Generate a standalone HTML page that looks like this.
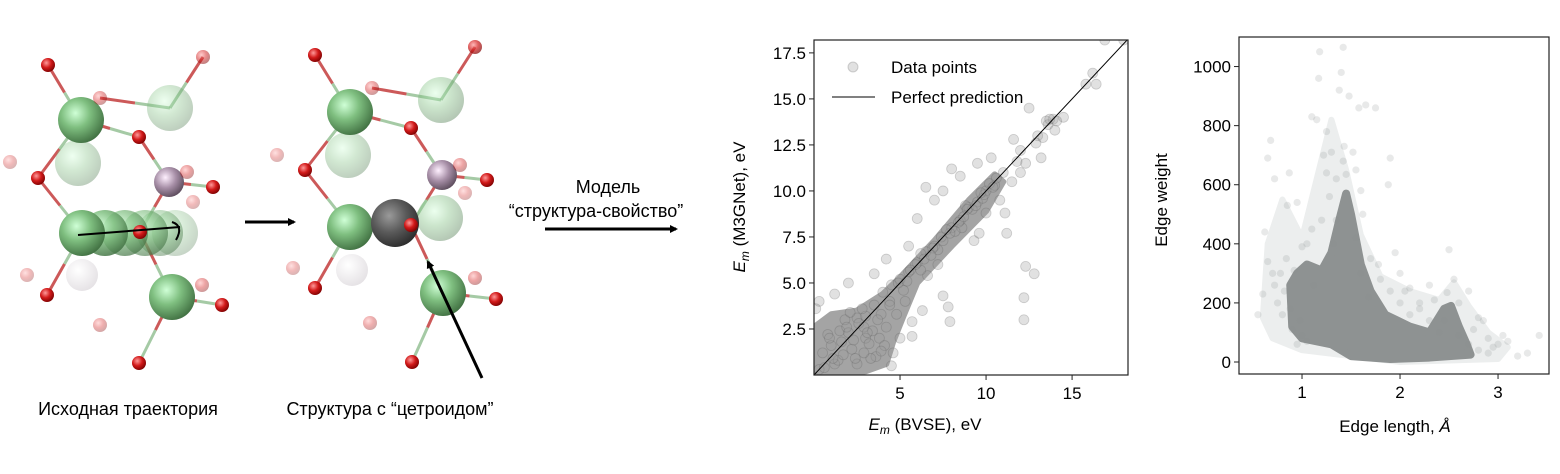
<!DOCTYPE html>
<html><head><meta charset="utf-8">
<style>
body{margin:0;background:#fff;}
svg{display:block;font-family:"Liberation Sans","Noto Sans CJK SC",sans-serif;}
</style></head>
<body>
<svg id="root" width="1560" height="474" viewBox="0 0 1560 474" xmlns="http://www.w3.org/2000/svg">
<defs>
<radialGradient id="gG" cx="0.38" cy="0.35" r="0.7"><stop offset="0" stop-color="#cfffd6"/><stop offset="0.45" stop-color="#7fbf80"/><stop offset="1" stop-color="#3f6e40"/></radialGradient>
<radialGradient id="gR" cx="0.38" cy="0.35" r="0.7"><stop offset="0" stop-color="#ff9a9a"/><stop offset="0.5" stop-color="#d21a1a"/><stop offset="1" stop-color="#7a0000"/></radialGradient>
<radialGradient id="gP" cx="0.38" cy="0.35" r="0.7"><stop offset="0" stop-color="#fff0ff"/><stop offset="0.5" stop-color="#a78fa7"/><stop offset="1" stop-color="#5a4a5a"/></radialGradient>
<radialGradient id="gW" cx="0.38" cy="0.35" r="0.7"><stop offset="0" stop-color="#ffffff"/><stop offset="1" stop-color="#bcb4bc"/></radialGradient>
<radialGradient id="gK" cx="0.38" cy="0.35" r="0.7"><stop offset="0" stop-color="#9a9a9a"/><stop offset="0.5" stop-color="#5a5a5a"/><stop offset="1" stop-color="#2a2a2a"/></radialGradient>
<marker id="ah" markerWidth="8" markerHeight="8" refX="6" refY="4" orient="auto" markerUnits="userSpaceOnUse"><path d="M0,0 L8,4 L0,8 z" fill="#000"/></marker>
</defs>

<g id="struct1"></g>
<g id="struct2"></g>

<line x1="78" y1="235" x2="180" y2="227" stroke="#000" stroke-width="2"/>
<path d="M172,222 Q184,226 176,240" fill="none" stroke="#000" stroke-width="2"/>
<line x1="245" y1="222" x2="294" y2="222" stroke="#000" stroke-width="3" marker-end="url(#ah)"/>
<line x1="482" y1="378" x2="428" y2="262" stroke="#000" stroke-width="3" marker-end="url(#ah)"/>
<line x1="545" y1="229" x2="676" y2="229" stroke="#000" stroke-width="3" marker-end="url(#ah)"/>

<text x="128" y="415" font-size="18" text-anchor="middle">Исходная траектория</text>
<text x="390" y="415" font-size="18" text-anchor="middle">Структура с “цетроидом”</text>
<text x="608" y="193" font-size="18" text-anchor="middle">Модель</text>
<text x="596" y="217" font-size="18" text-anchor="middle">“структура-свойство”</text>

<g id="plot1"></g>
<g id="plot2"></g>
</svg>
<script>
// ---------- Plot 1 data ----------
const p1XTicks = [5, 10, 15];
const p1YTicks = [2.5, 5.0, 7.5, 10.0, 12.5, 15.0, 17.5];
const p1YTickLabels = ["2.5","5.0","7.5","10.0","12.5","15.0","17.5"];
const p1CoreX = [0,0,1.0,2.5,4,5,7,9,10.5,11,10,8,6,5.2,4.6,4.2,3,1.5];
const p1CoreY = [0,2.6,3.3,3.5,4.4,5.3,7.3,9.5,10.9,10.5,8.9,7.0,5.0,3.2,1.8,0.6,0.2,0];
const p1X = [6.5,12.3,12.8,12.2,12.2,7.5,7.8,7.9,11.2,9.3,10.8,11.1,12.3,13.2,13.0,12.5,14.5,15.8,16.2,16.4,16.9,18.0,11.6,12.0,13.6,13.9,14.0,13.5,10.3,9.5,8.0,8.5,7.5,7.0,6.0,5.5,4.2,3.5,2.0,1.2,0.3,0.1,3.0,5.0,5.7,4.5,2.5,8.6,9.6,10.0,11.5,12.0,6.6,7.2,6.2,5.3,4.8,5.7,6.3,
 0.5,1.0,1.5,2.0,2.5,3.0,3.5,4.0,4.5,5.0,5.5,6.0,6.5,7.0,7.5,8.0,8.5,9.0,9.5,10.0,10.5,11.0,1.2,2.2,3.2,4.2,5.2,6.2,7.2,8.2,9.2,10.2,0.8,1.8,2.8,3.8,4.6,0.3,1.4,2.6,3.6,4.1,3.3,2.1,13.7,14.1,13.3,12.9,11.8,8.8,9.8,
 0.6,1.1,1.7,2.3,2.9,3.4,3.9,4.4,4.9,5.4,5.9,6.4,6.9,7.4,7.9,8.4,8.9,9.4,9.9,10.4,0.9,1.9,2.9,3.9,4.4,5.6,6.8,7.7,8.7,9.7,10.6,1.6,2.4,3.1,3.7];
const p1Y = [10.2,5.9,5.5,4.2,3.0,4.3,3.7,2.9,7.7,7.3,9.5,8.8,11.5,11.8,13.0,14.5,14.0,15.8,16.4,15.8,18.2,18.2,12.8,12.2,13.6,13.9,13.3,13.8,11.8,11.5,11.2,10.8,10.0,9.5,8.5,7.0,6.3,5.5,5.0,4.4,4.0,3.6,2.0,2.0,2.1,0.5,0.6,8.0,7.7,8.8,10.5,11.0,5.4,6.0,5.7,4.0,3.3,2.9,3.5,
 1.2,1.6,2.4,2.3,3.1,3.2,3.8,4.5,4.9,5.2,5.6,6.1,6.7,7.0,7.3,8.0,8.4,9.1,9.4,10.0,10.3,11.0,0.6,1.4,1.7,2.6,4.6,6.6,6.8,7.8,9.0,10.4,2.2,3.0,3.6,2.0,1.2,0.3,0.8,2.8,1.0,1.6,0.9,3.4,13.9,13.8,12.9,12.6,11.6,9.2,9.6,
 0.4,0.9,1.1,1.9,2.6,2.4,3.3,4.0,5.0,5.1,6.0,6.3,6.9,7.5,7.7,8.3,9.0,9.2,9.8,10.2,2.0,2.6,1.2,1.3,3.8,5.7,6.5,7.9,8.6,9.9,10.7,1.8,0.9,2.3,3.0];

// ---------- Plot 2 data ----------
const p2XTicks = [1, 2, 3];
const p2YTicks = [0, 200, 400, 600, 800, 1000];
const p2HaloX = [0.6,0.65,0.8,1.0,1.15,1.3,1.45,1.6,1.8,2.1,2.4,2.55,2.7,2.9,3.1,3.0,2.0,1.0,0.7];
const p2HaloY = [150,400,550,420,620,820,650,430,290,240,210,270,190,100,50,10,0,40,80];
const p2CoreX = [0.88,0.95,1.05,1.2,1.3,1.38,1.45,1.5,1.6,1.7,1.85,2.1,2.3,2.45,2.52,2.6,2.68,2.72,2.3,1.9,1.5,1.3,1.0,0.9];
const p2CoreY = [260,300,330,310,370,480,570,500,330,240,160,120,100,180,190,120,60,25,15,10,20,60,80,120];
const p2X = [1.18,1.17,1.42,1.40,1.38,1.43,1.42,1.45,0.92,0.82,0.62,0.55,0.85,1.95,2.48,2.5,1.0,0.84,0.68,1.58,1.75,1.90,1.88,0.87,0.72,0.65,1.65,1.3,1.25,1.15,1.52,1.6,1.1,2.0,2.1,2.3,2.8,2.85,3.05,3.2,3.3,3.42,2.95,2.6,2.7,0.78,1.35,1.48,1.55,1.05,0.95,1.28,1.22,1.62,2.45,2.2,
 0.6,0.7,0.75,0.8,0.9,0.95,1.0,1.05,1.1,1.2,1.25,1.35,1.6,1.7,1.8,1.9,2.0,2.1,2.2,2.3,2.4,2.6,2.7,2.8,2.9,3.0,0.65,0.72,0.88,0.98,1.12,1.32,1.55,1.68,1.78,2.05,2.35,2.55,2.75,2.9,3.1];
const p2Y = [1050,960,1065,980,920,730,680,635,310,240,440,160,530,370,235,380,390,350,750,860,860,690,600,640,620,690,870,710,780,820,710,580,830,300,250,260,150,140,90,20,30,90,50,200,240,300,480,900,650,400,540,560,700,500,140,200,
 230,300,200,160,110,60,90,70,450,480,640,620,300,350,280,240,200,160,180,140,100,90,60,40,80,60,340,260,180,140,260,400,420,220,330,240,210,280,110,30,70];

const NS = "http://www.w3.org/2000/svg";
function mk(tag, attrs, parent) {
  const e = document.createElementNS(NS, tag);
  for (const k in attrs) e.setAttribute(k, attrs[k]);
  parent.appendChild(e);
  return e;
}

// ---------- structures ----------
const s1Big = [[170,108,0.35],[78,163,0.35],[175,233,0.3],[160,233,0.45],[145,233,0.6],[125,233,0.7],[105,233,0.85],[82,233,1],[81,120,1],[172,297,1]];
const s1White = [[82,275,0.4]];
const s1Purple = [[169,182,1]];
const s1Red = [[48,65,1],[139,137,1],[38,178,1],[213,187,1],[140,232,1],[47,295,1],[222,305,1],[139,363,1],[203,57,0.5],[100,98,0.4],[10,162,0.3],[187,172,0.4],[27,275,0.3],[202,285,0.4],[100,325,0.35],[193,202,0.3]];
const s1Bonds = [[48,65,81,120],[81,120,139,137],[139,137,169,182],[169,182,213,187],[38,178,82,233],[38,178,81,120],[140,232,172,297],[172,297,222,305],[172,297,139,363],[47,295,82,233],[203,57,170,108],[100,98,170,108],[169,182,140,232]];
const s2Big = [[441,100,0.4],[348,155,0.35],[440,218,0.4],[350,112,1],[350,227,1],[443,293,1]];
const s2White = [[352,270,0.4]];
const s2Purple = [[442,175,1]];
const s2Red = [[315,55,1],[475,47,0.7],[411,128,1],[305,170,1],[487,180,1],[411,225,1],[315,288,1],[496,299,1],[412,362,1],[372,88,0.4],[277,155,0.3],[460,165,0.4],[293,268,0.3],[475,278,0.4],[370,323,0.35],[465,193,0.3]];
const s2Bonds = [[315,55,350,112],[350,112,411,128],[411,128,442,175],[442,175,487,180],[305,170,350,227],[305,170,350,112],[411,225,443,293],[443,293,496,299],[443,293,412,362],[315,288,350,227],[475,47,441,100],[372,88,441,100],[442,175,411,225],[350,227,411,225]];

function drawStruct(g, big, white, purple, red, bonds, extra) {
  bonds.forEach(b => {
    const mx=(b[0]+b[2])/2, my=(b[1]+b[3])/2;
    const l = mk("line", {x1:b[0],y1:b[1],x2:mx,y2:my,stroke:"#c03030","stroke-width":3,opacity:0.8}, g);
    
    
    const l2 = mk("line", {x1:mx,y1:my,x2:b[2],y2:b[3],stroke:"#6aa86a","stroke-width":3,opacity:0.6}, g);
    
    
  });
  big.forEach(a => {
    const c = mk("circle", {cx:a[0],cy:a[1],r:23,fill:"url(#gG)",opacity:a[2]}, g);
    
    
  });
  if (extra) {
    const c = mk("circle", {cx:extra[0],cy:extra[1],r:24,fill:"url(#gK)"}, g);
    
    
  }
  white.forEach(a => {
    const c = mk("circle", {cx:a[0],cy:a[1],r:16,fill:"url(#gW)",opacity:a[2]}, g);
    
    
  });
  purple.forEach(a => {
    const c = mk("circle", {cx:a[0],cy:a[1],r:15,fill:"url(#gP)",opacity:a[2]}, g);
    
    
  });
  red.forEach(a => {
    const c = mk("circle", {cx:a[0],cy:a[1],r:7,fill:"url(#gR)",opacity:a[2]}, g);
    
    
  });
}
drawStruct(document.getElementById("struct1"), s1Big, s1White, s1Purple, s1Red, s1Bonds, null);
drawStruct(document.getElementById("struct2"), s2Big, s2White, s2Purple, s2Red, s2Bonds, [395,223]);

// ---------- Plot 1 ----------
(function(){
  const g = document.getElementById("plot1");
  const L=814,R=1128,T=40,B=375, xmin=0,xmax=18.25,ymin=0,ymax=18.2;
  const sx = v => L + (v-xmin)/(xmax-xmin)*(R-L);
  const sy = v => B - (v-ymin)/(ymax-ymin)*(B-T);
  const clip = mk("clipPath",{id:"c1"},g); mk("rect",{x:L,y:T,width:R-L,height:B-T},clip);
  const inner = mk("g",{"clip-path":"url(#c1)"},g);
  const core = mk("polygon",{points:p1CoreX.map((x,i)=>sx(x)+","+sy(p1CoreY[i])).join(" "),fill:"#a4a4a4",stroke:"#a4a4a4","stroke-width":6,"stroke-linejoin":"round"},inner);
  
  
  p1X.forEach((x,i)=>{
    const c = mk("circle",{cx:sx(x),cy:sy(p1Y[i]),r:5,fill:"#9a9a9a","fill-opacity":0.3,stroke:"#555","stroke-opacity":0.25,"stroke-width":0.8},inner);
    
    
  });
  const dl = mk("line",{x1:sx(0),y1:sy(0),x2:sx(18.25),y2:sy(18.25),stroke:"#000","stroke-width":1},inner);
  
  
  const fr = mk("rect",{x:L,y:T,width:R-L,height:B-T,fill:"none",stroke:"#222","stroke-width":1.2},g);
  
  
  p1XTicks.forEach(t=>{
    mk("line",{x1:sx(t),y1:B,x2:sx(t),y2:B+5,stroke:"#222"},g);
    const tx = mk("text",{x:sx(t),y:B+24,"font-size":17,"text-anchor":"middle"},g); tx.textContent=t;
    
    
  });
  p1YTicks.forEach((t,i)=>{
    mk("line",{x1:L-5,y1:sy(t),x2:L,y2:sy(t),stroke:"#222"},g);
    const tx = mk("text",{x:L-8,y:sy(t)+6,"font-size":17,"text-anchor":"end"},g); tx.textContent=p1YTickLabels[i];
    
    
  });
  const lp = mk("circle",{cx:853,cy:67,r:5,fill:"#9a9a9a","fill-opacity":0.3,stroke:"#555","stroke-opacity":0.25},g);
  
  
  const lt1 = mk("text",{x:891,y:73,"font-size":17},g); lt1.textContent="Data points";
  
  
  mk("line",{x1:832,y1:97,x2:875,y2:97,stroke:"#000","stroke-width":1},g);
  const lt2 = mk("text",{x:891,y:103,"font-size":17},g); lt2.textContent="Perfect prediction";
  
  
  const xl = mk("text",{x:925,y:430,"font-size":17,"text-anchor":"middle"},g);
  xl.innerHTML='<tspan font-style="italic">E</tspan><tspan font-style="italic" font-size="12" dy="4">m</tspan><tspan dy="-4"> (BVSE), eV</tspan>';
  
  
  const yl = mk("text",{x:0,y:0,"font-size":17,"text-anchor":"middle",transform:"translate(745,207) rotate(-90)"},g);
  yl.innerHTML='<tspan font-style="italic">E</tspan><tspan font-style="italic" font-size="12" dy="4">m</tspan><tspan dy="-4"> (M3GNet), eV</tspan>';
  
  
})();

// ---------- Plot 2 ----------
(function(){
  const g = document.getElementById("plot2");
  const L=1239,R=1549,T=37,B=374, xmin=0.357,xmax=3.52,ymin=-40.6,ymax=1100;
  const sx = v => L + (v-xmin)/(xmax-xmin)*(R-L);
  const sy = v => B - (v-ymin)/(ymax-ymin)*(B-T);
  const clip = mk("clipPath",{id:"c2"},g); mk("rect",{x:L,y:T,width:R-L,height:B-T},clip);
  const inner = mk("g",{"clip-path":"url(#c2)"},g);
  const halo = mk("polygon",{points:p2HaloX.map((x,i)=>sx(x)+","+sy(p2HaloY[i])).join(" "),fill:"#eceeee",stroke:"#eceeee","stroke-width":6,"stroke-linejoin":"round"},inner);
  
  
  const core = mk("polygon",{points:p2CoreX.map((x,i)=>sx(x)+","+sy(p2CoreY[i])).join(" "),fill:"#8e9292",stroke:"#8e9292","stroke-width":8,"stroke-linejoin":"round"},inner);
  
  
  p2X.forEach((x,i)=>{
    const c = mk("circle",{cx:sx(x),cy:sy(p2Y[i]),r:3.6,fill:"#8e9292","fill-opacity":0.2},inner);
    
    
  });
  const fr = mk("rect",{x:L,y:T,width:R-L,height:B-T,fill:"none",stroke:"#222","stroke-width":1.2},g);
  
  
  p2XTicks.forEach(t=>{
    mk("line",{x1:sx(t),y1:B,x2:sx(t),y2:B+5,stroke:"#222"},g);
    const tx = mk("text",{x:sx(t),y:B+24,"font-size":17,"text-anchor":"middle"},g); tx.textContent=t;
    
    
  });
  p2YTicks.forEach(t=>{
    mk("line",{x1:L-5,y1:sy(t),x2:L,y2:sy(t),stroke:"#222"},g);
    const tx = mk("text",{x:L-8,y:sy(t)+6,"font-size":17,"text-anchor":"end"},g); tx.textContent=t;
    
    
  });
  const xl = mk("text",{x:1395,y:432,"font-size":17,"text-anchor":"middle"},g);
  xl.innerHTML='Edge length, <tspan font-style="italic">Å</tspan>';
  
  
  const yl = mk("text",{x:0,y:0,"font-size":17,"text-anchor":"middle",transform:"translate(1167,200) rotate(-90)"},g);
  yl.textContent="Edge weight";
  
  
})();
</script>
</body></html>
